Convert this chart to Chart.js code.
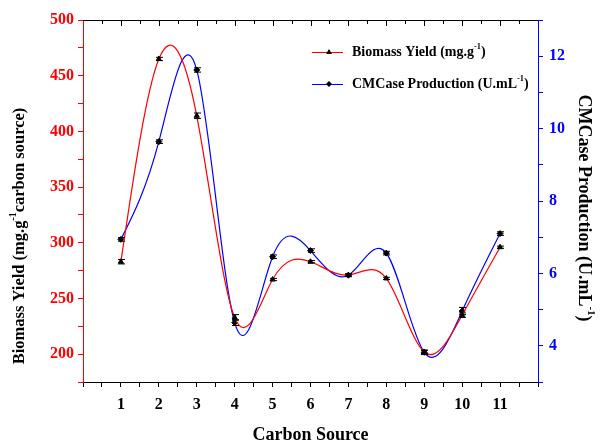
<!DOCTYPE html>
<html>
<head>
<meta charset="utf-8">
<script src="https://cdn.jsdelivr.net/npm/chart.js@4.4.1/dist/chart.umd.min.js"></script>
<style>
  html, body { margin: 0; padding: 0; background: #fff; }
  #wrap { width: 600px; height: 444px; }
</style>
</head>
<body>
<div id="wrap"><canvas id="chart" width="600" height="444"></canvas></div>
<script>
// values
const carbonSources = [1, 2, 3, 4, 5, 6, 7, 8, 9, 10, 11];
const biomassYield = [283, 465, 414, 233, 267, 283, 271, 268, 202, 235, 296];
const biomassErr = [2, 1.5, 2.5, 2.5, 1, 1, 1, 1, 1.5, 2, 1];
const cmcaseProduction = [6.94, 9.64, 11.62, 4.64, 6.46, 6.63, 5.95, 6.56, 3.82, 4.96, 7.10];
const cmcaseErr = [0.05, 0.05, 0.06, 0.08, 0.05, 0.05, 0.04, 0.05, 0.06, 0.1, 0.05];

const FONT = '"Liberation Serif", "Times New Roman", serif';

function richWidth(ctx, parts, size) {
  let w = 0;
  parts.forEach(p => {
    ctx.font = 'bold ' + (p.sup ? size * 0.6 : size) + 'px ' + FONT;
    w += ctx.measureText(p.t).width;
  });
  return w;
}
function drawRich(ctx, parts, x, y, size) {
  ctx.textBaseline = 'middle';
  ctx.textAlign = 'left';
  parts.forEach(p => {
    const s = p.sup ? size * 0.6 : size;
    ctx.font = 'bold ' + s + 'px ' + FONT;
    ctx.fillText(p.t, x, p.sup ? y - size * 0.38 : y);
    x += ctx.measureText(p.t).width;
  });
}

const biomassTitle = [{ t: 'Biomass Yield (mg.g' }, { t: '-1', sup: true }, { t: 'carbon source)' }];
const cmcaseTitle = [{ t: 'CMCase Production (U.mL' }, { t: '-1', sup: true }, { t: ')' }];
const biomassLegend = [{ t: 'Biomass Yield (mg.g' }, { t: '-1', sup: true }, { t: ')' }];
const cmcaseLegend = [{ t: 'CMCase Production (U.mL' }, { t: '-1', sup: true }, { t: ')' }];

// replace chart.js control points with a natural cubic spline (like Origin's spline)
const splinePlugin = {
  id: 'naturalSpline',
  beforeDatasetsDraw(chart) {
    chart.getSortedVisibleDatasetMetas().forEach(meta => {
      const line = meta.dataset;
      const pts = meta.data;
      const n = pts.length;
      if (!line || n < 3) return;
      line.updateControlPoints(chart.chartArea);
      const h = [], d = [];
      for (let i = 0; i < n - 1; i++) h.push(pts[i + 1].x - pts[i].x);
      // solve for second derivatives
      const a = new Array(n).fill(0), b = new Array(n).fill(1), c = new Array(n).fill(0), r = new Array(n).fill(0);
      for (let i = 1; i < n - 1; i++) {
        a[i] = h[i - 1];
        b[i] = 2 * (h[i - 1] + h[i]);
        c[i] = h[i];
        r[i] = 6 * ((pts[i + 1].y - pts[i].y) / h[i] - (pts[i].y - pts[i - 1].y) / h[i - 1]);
      }
      for (let i = 1; i < n; i++) {
        const w = a[i] / b[i - 1];
        b[i] -= w * c[i - 1];
        r[i] -= w * r[i - 1];
      }
      const M = new Array(n).fill(0);
      M[n - 1] = r[n - 1] / b[n - 1];
      for (let i = n - 2; i >= 0; i--) M[i] = (r[i] - c[i] * M[i + 1]) / b[i];
      for (let i = 0; i < n; i++) {
        let m;
        if (i < n - 1) m = (pts[i + 1].y - pts[i].y) / h[i] - h[i] * (2 * M[i] + M[i + 1]) / 6;
        else m = (pts[i].y - pts[i - 1].y) / h[i - 1] + h[i - 1] * (M[i - 1] + 2 * M[i]) / 6;
        const hp = i > 0 ? h[i - 1] / 3 : 0;
        const hn = i < n - 1 ? h[i] / 3 : 0;
        pts[i].cp1x = pts[i].x - hp;
        pts[i].cp1y = pts[i].y - m * hp;
        pts[i].cp2x = pts[i].x + hn;
        pts[i].cp2y = pts[i].y + m * hn;
      }
      line._path = undefined;
    });
  }
};

const decorPlugin = {
  id: 'decor',
  afterDatasetsDraw(chart) {
    const ctx = chart.ctx;
    const xs = chart.scales.x;
    const ys = [chart.scales.y, chart.scales.y1];
    const vals = [biomassYield, cmcaseProduction];
    const errs = [biomassErr, cmcaseErr];
    ctx.save();
    ctx.strokeStyle = '#000';
    ctx.lineWidth = 1;
    vals.forEach((arr, k) => {
      arr.forEach((v, i) => {
        const px = Math.round(xs.getPixelForValue(carbonSources[i])) + 0.5;
        const t = ys[k].getPixelForValue(v + errs[k][i]);
        const b = ys[k].getPixelForValue(v - errs[k][i]);
        ctx.beginPath();
        ctx.moveTo(px, t); ctx.lineTo(px, b);
        ctx.moveTo(px - 3.5, t); ctx.lineTo(px + 3.5, t);
        ctx.moveTo(px - 3.5, b); ctx.lineTo(px + 3.5, b);
        ctx.stroke();
      });
    });
    ctx.restore();
  },
  afterDraw(chart) {
    const ctx = chart.ctx;
    const area = chart.chartArea;
    const xs = chart.scales.x;
    ctx.save();
    // top axis, ticks pointing inward
    ctx.strokeStyle = '#000';
    ctx.lineWidth = 1;
    ctx.beginPath();
    ctx.moveTo(area.left, area.top + 0.5);
    ctx.lineTo(area.right, area.top + 0.5);
    for (let v = 0.5; v < 12; v += 0.5) {
      const px = Math.round(xs.getPixelForValue(v)) + 0.5;
      ctx.moveTo(px, area.top);
      ctx.lineTo(px, area.top + (v % 1 === 0 ? 6 : 4));
    }
    ctx.stroke();

    // axis titles
    ctx.fillStyle = '#000';
    ctx.save();
    ctx.translate(20, 236);
    ctx.rotate(-Math.PI / 2);
    drawRich(ctx, biomassTitle, -richWidth(ctx, biomassTitle, 16.5) / 2, 0, 16.5);
    ctx.restore();

    ctx.save();
    ctx.translate(584, 208);
    ctx.rotate(Math.PI / 2);
    drawRich(ctx, cmcaseTitle, -richWidth(ctx, cmcaseTitle, 18) / 2, 0, 18);
    ctx.restore();

    ctx.font = 'bold 18px ' + FONT;
    ctx.textAlign = 'center';
    ctx.textBaseline = 'middle';
    ctx.fillText('Carbon Source', (area.left + area.right) / 2, 435);

    // legend
    const rows = [
      { y: 52, color: '#ff0000', parts: biomassLegend, shape: 'tri' },
      { y: 84, color: '#0000ff', parts: cmcaseLegend, shape: 'dia' }
    ];
    rows.forEach(r => {
      ctx.strokeStyle = r.color;
      ctx.beginPath();
      ctx.moveTo(312, r.y + 0.5);
      ctx.lineTo(343, r.y + 0.5);
      ctx.stroke();
      ctx.fillStyle = '#000';
      ctx.beginPath();
      if (r.shape === 'tri') {
        ctx.moveTo(329, r.y - 3); ctx.lineTo(332, r.y + 2); ctx.lineTo(326, r.y + 2);
      } else {
        ctx.moveTo(329, r.y - 3); ctx.lineTo(332, r.y); ctx.lineTo(329, r.y + 3); ctx.lineTo(326, r.y);
      }
      ctx.closePath();
      ctx.fill();
      drawRich(ctx, r.parts, 352, r.y, 14);
    });
    ctx.restore();
  }
};

new Chart(document.getElementById('chart'), {
  type: 'line',
  data: {
    datasets: [
      {
        label: 'Biomass Yield',
        data: carbonSources.map((x, i) => ({ x: x, y: biomassYield[i] })),
        yAxisID: 'y',
        borderColor: '#ff0000',
        borderWidth: 1.2,
        tension: 0.4,
        fill: false,
        pointStyle: 'triangle',
        pointRadius: 3,
        pointBackgroundColor: '#000',
        pointBorderColor: '#000',
        pointBorderWidth: 1
      },
      {
        label: 'CMCase Production',
        data: carbonSources.map((x, i) => ({ x: x, y: cmcaseProduction[i] })),
        yAxisID: 'y1',
        borderColor: '#0000ff',
        borderWidth: 1.2,
        tension: 0.4,
        fill: false,
        pointStyle: 'rectRot',
        pointRadius: 3,
        pointBackgroundColor: '#000',
        pointBorderColor: '#000',
        pointBorderWidth: 1
      }
    ]
  },
  options: {
    responsive: false,
    animation: false,
    layout: { padding: { top: 20, left: 0, right: 0, bottom: 0 } },
    plugins: { legend: { display: false }, title: { display: false }, tooltip: { enabled: false } },
    scales: {
      x: {
        type: 'linear',
        min: 0,
        max: 12,
        afterFit(scale) { scale.height = 62; },
        border: { color: '#000', width: 1 },
        grid: { drawOnChartArea: false, tickLength: 5, color: '#000' },
        ticks: {
          stepSize: 0.5,
          autoSkip: false,
          maxRotation: 0,
          padding: 8,
          color: '#000',
          font: { family: FONT, size: 16, weight: 'bold' },
          callback: v => (Number.isInteger(v) && v >= 1 && v <= 11) ? String(v) : ''
        }
      },
      y: {
        position: 'left',
        min: 175,
        max: 500,
        afterFit(scale) { scale.width = 83; },
        border: { color: '#ff0000', width: 1 },
        grid: { drawOnChartArea: false, tickLength: 5, color: '#ff0000' },
        ticks: {
          stepSize: 25,
          autoSkip: false,
          padding: 4,
          color: '#ff0000',
          font: { family: FONT, size: 16, weight: 'bold' },
          callback: v => (v % 50 === 0) ? String(v) : ''
        }
      },
      y1: {
        position: 'right',
        min: 3,
        max: 13,
        afterFit(scale) { scale.width = 62; },
        border: { color: '#0000ff', width: 1 },
        grid: { drawOnChartArea: false, tickLength: 5, color: '#0000ff' },
        ticks: {
          stepSize: 1,
          autoSkip: false,
          padding: 6,
          color: '#0000ff',
          font: { family: FONT, size: 16, weight: 'bold' },
          callback: v => (v % 2 === 0) ? String(v) : ''
        }
      }
    }
  },
  plugins: [splinePlugin, decorPlugin]
});
</script>
</body>
</html>
